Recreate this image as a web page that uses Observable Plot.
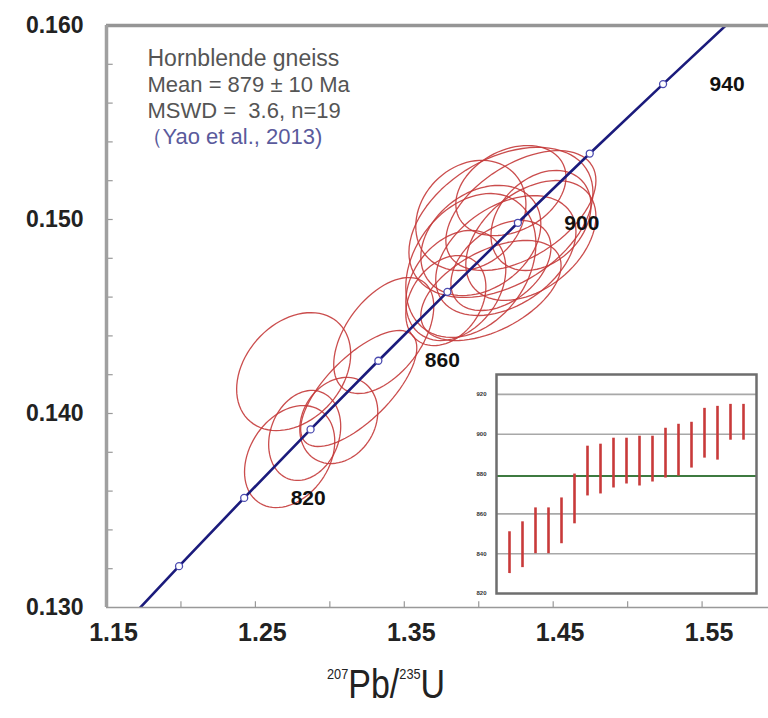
<!DOCTYPE html>
<html><head><meta charset="utf-8">
<script src="https://cdn.jsdelivr.net/npm/d3@7"></script>
<script src="https://cdn.jsdelivr.net/npm/@observablehq/plot@0.6"></script>
<style>
body{margin:0;background:#fff;}
#wrap{position:relative;width:768px;height:718px;overflow:hidden;font-family:"Liberation Sans",Arial,sans-serif;background:#fff;}
#main{position:absolute;left:0;top:0;}
#inset{position:absolute;left:460px;top:365px;}
#xtitle{position:absolute;left:327px;top:664px;font-family:"Liberation Sans",Arial,sans-serif;font-size:40px;color:#222;transform:scaleX(0.85);transform-origin:left top;white-space:nowrap;line-height:1;}
#xtitle sup{font-size:15px;vertical-align:19px;}
svg g[aria-label="x-axis tick label"] text, svg g[aria-label="y-axis tick label"] text{font-weight:bold;}
</style></head><body>
<div id="wrap"><div id="main"></div><div id="inset"></div>
<div id="xtitle"><sup>207</sup>Pb/<sup>235</sup>U</div></div>
<script>
// ---- Concordia (ages in Ma with ratios) ----
const concAge = [780, 800, 820, 840, 860, 880, 900, 920, 940, 960];
const concPb207U235 = [1.15585, 1.19873, 1.24248, 1.28706, 1.33257, 1.37897, 1.42629, 1.47455, 1.52379, 1.57399];
const concPb206U238 = [0.12862, 0.13213, 0.13565, 0.13918, 0.14272, 0.14627, 0.14983, 0.15340, 0.15698, 0.16058];
const markerAges = [800, 820, 840, 860, 880, 900, 920, 940];
const labelAges = [820, 860, 900, 940];

// ---- Error ellipses (centre, half-widths, correlation) ----
const ellX   = [1.2757, 1.2730, 1.2831, 1.3060, 1.3194, 1.3362, 1.4149, 1.3947, 1.4283, 1.4182, 1.4014, 1.4350, 1.3846, 1.4082, 1.4216, 1.3947, 1.4418, 1.3779, 1.4149];
const ellY   = [0.14216, 0.13778, 0.13887, 0.13964, 0.14129, 0.14402, 0.14985, 0.14763, 0.15046, 0.14814, 0.14892, 0.14892, 0.14660, 0.14634, 0.15149, 0.15021, 0.14995, 0.14582, 0.14763];
const ellSX  = [0.0383, 0.0303, 0.0242, 0.0262, 0.0390, 0.0336, 0.0618, 0.0437, 0.0504, 0.0471, 0.0403, 0.0437, 0.0336, 0.0471, 0.0370, 0.0370, 0.0336, 0.0269, 0.0336];
const ellSY  = [0.00304, 0.00263, 0.00232, 0.00222, 0.00299, 0.00299, 0.00387, 0.00371, 0.00309, 0.00309, 0.00284, 0.00309, 0.00284, 0.00258, 0.00232, 0.00284, 0.00258, 0.00232, 0.00232];
const ellRho = [0.3, 0.3, 0.2, 0.2, 0.7, 0.5, 0.4, 0.3, 0.5, 0.4, 0.3, 0.4, 0.3, 0.5, 0.3, 0.2, 0.3, 0.3, 0.4];

// ---- Inset: 206Pb/238U ages (Ma), low/high of each bar ----
const insetIndex = [1,2,3,4,5,6,7,8,9,10,11,12,13,14,15,16,17,18,19];
const insetLow  = [830, 833, 840, 840, 845, 855, 869, 870, 873, 875, 874, 876, 878, 879, 883, 888, 887, 897, 897];
const insetHigh = [851, 856, 863, 863, 868, 880, 894, 895, 898, 898, 899, 899, 903, 905, 906, 913, 914, 915, 915];
const insetMean = 879;
const insetTicks = [820, 840, 860, 880, 900, 920];
const insetGrid = [840, 860, 900, 920];

// ---- Axes ----
const xTicks = [1.15, 1.25, 1.35, 1.45, 1.55];
const xMinor = [1.20, 1.25, 1.30, 1.35, 1.40, 1.45, 1.50, 1.55];
const yTicks = [0.130, 0.140, 0.150, 0.160];
const yMinor = [0.132, 0.134, 0.136, 0.138, 0.140, 0.142, 0.144, 0.146, 0.148, 0.150, 0.152, 0.154, 0.156, 0.158];
const annotLines = ["Hornblende gneiss", "Mean = 879 ± 10 Ma", "MSWD =  3.6, n=19", "（Yao et al., 2013)"];

// build tables
const conc = concAge.map((a, i) => ({age: a, x: concPb207U235[i], y: concPb206U238[i]}));
const markers = conc.filter(d => markerAges.includes(d.age));
const labels = conc.filter(d => labelAges.includes(d.age));
const ellPts = [];
ellX.forEach((cx, i) => {
  const s = Math.sqrt(1 - ellRho[i] * ellRho[i]);
  for (let k = 0; k <= 80; k++) {
    const t = 2 * Math.PI * k / 80;
    ellPts.push({id: i, x: cx + ellSX[i] * Math.cos(t), y: ellY[i] + ellSY[i] * (ellRho[i] * Math.cos(t) + s * Math.sin(t))});
  }
});
const bars = insetIndex.map((n, i) => ({n, lo: insetLow[i], hi: insetHigh[i]}));

const main = Plot.plot({
  width: 768, height: 718,
  marginLeft: 106, marginTop: 25, marginRight: 0, marginBottom: 111,
  x: {domain: [1.15, 1.5946]},
  y: {domain: [0.130, 0.160]},
  style: {fontFamily: "Liberation Sans, Arial, sans-serif", background: "transparent", color: "#222"},
  marks: [
    Plot.line(ellPts, {x: "x", y: "y", z: "id", stroke: "#c43a3a", strokeWidth: 1.3, strokeOpacity: 0.9}),
    Plot.line(conc, {x: "x", y: "y", stroke: "#1b1b7c", strokeWidth: 2.6, clip: true}),
    Plot.dot(markers, {x: "x", y: "y", r: 3.5, fill: "white", stroke: "#4b4bb0", strokeWidth: 1.3}),
    Plot.text(labels, {x: "x", y: "y", text: d => String(d.age), dx: 64, fontSize: 21, fontWeight: "bold", fill: "#111"}),
    Plot.ruleX(xMinor, {x: d => d, y1: 0.130, y2: 0.1303, stroke: "#999", strokeWidth: 1.2}),
    Plot.ruleY(yMinor, {y: d => d, x1: 1.15, x2: 1.1545, stroke: "#999", strokeWidth: 1.2}),
    Plot.ruleY([0.130], {stroke: "#999", strokeWidth: 1.6}),
    Plot.ruleY([0.160], {stroke: "#959595", strokeWidth: 3.5}),
    Plot.ruleX([1.15], {stroke: "#a0a0a0", strokeWidth: 3.5}),
    Plot.axisX({ticks: xTicks, tickSize: 0, tickPadding: 16, dx: 7, fontSize: 25, label: null, tickFormat: d3.format(".2f")}),
    Plot.axisY({ticks: yTicks, tickSize: 0, tickPadding: 23, fontSize: 23, label: null, tickFormat: d3.format(".3f")}),
    Plot.text([annotLines[0]], {text: d => d, frameAnchor: "top-left", dx: 41, dy: 24, fontSize: 23, fill: "#555"}),
    Plot.text([annotLines[1]], {text: d => d, frameAnchor: "top-left", dx: 41, dy: 51, fontSize: 22, fill: "#555"}),
    Plot.text([annotLines[2]], {text: d => d, frameAnchor: "top-left", dx: 41, dy: 77, fontSize: 22, fill: "#555"}),
    Plot.text([annotLines[3]], {text: d => d, frameAnchor: "top-left", dx: 34, dy: 103, fontSize: 22, fill: "#5a5a9c"})
  ]
});
document.getElementById("main").appendChild(main);

const inset = Plot.plot({
  width: 300, height: 235,
  marginLeft: 36, marginRight: 4, marginTop: 9, marginBottom: 7,
  x: {domain: [0, 20], axis: null},
  y: {domain: [820, 930]},
  style: {fontFamily: "Liberation Sans, Arial, sans-serif", background: "transparent"},
  marks: [
    Plot.frame({fill: "white", stroke: "none"}),
    Plot.ruleY(insetGrid, {stroke: "#a8a8a8", strokeWidth: 1.6}),
    Plot.ruleY([insetMean], {stroke: "#3d7a40", strokeWidth: 2}),
    Plot.ruleX(bars, {x: "n", y1: "lo", y2: "hi", stroke: "#c83a3a", strokeWidth: 2.6}),
    Plot.frame({stroke: "#6e6e6e", strokeWidth: 2.5}),
    Plot.axisY({ticks: insetTicks, tickSize: 0, tickPadding: 10, fontSize: 6, fontWeight: "bold", label: null, fill: "#333"})
  ]
});
document.getElementById("inset").appendChild(inset);
</script>
</body></html>
